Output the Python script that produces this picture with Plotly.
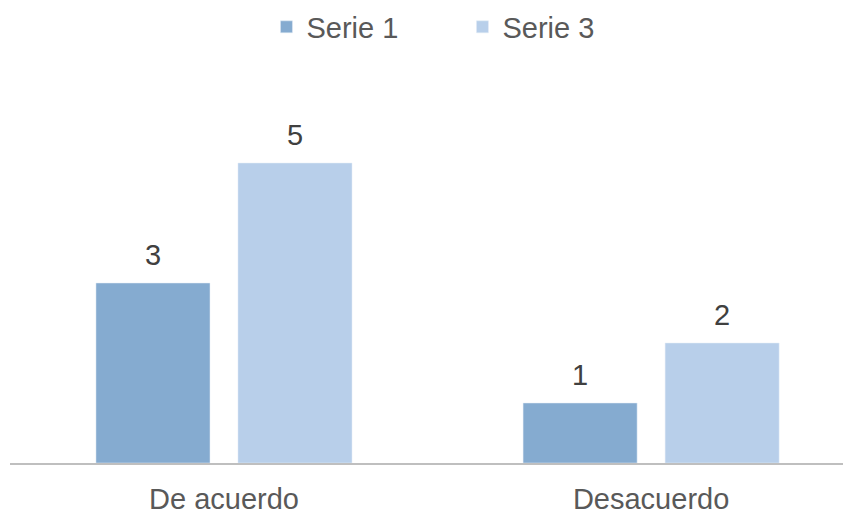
import plotly.graph_objects as go

categories = ["De acuerdo", "Desacuerdo"]
serie1 = [3, 1]
serie3 = [5, 2]

color1 = "#85abd0"
color3 = "#b8cfea"
text_color = "#595959"

fig = go.Figure()
fig.add_trace(go.Bar(x=categories, y=serie1, name="Serie 1", marker=dict(color=color1)))
fig.add_trace(go.Bar(x=categories, y=serie3, name="Serie 3", marker=dict(color=color3)))

# data labels above bars
for vals, shift in [(serie1, -71), (serie3, 71)]:
    for c, v in zip(categories, vals):
        fig.add_annotation(
            x=c, y=v, text=str(v), showarrow=False,
            xshift=shift, yshift=10, yanchor="bottom",
            font=dict(size=29, color="#404040", family="Liberation Sans, Arial"),
        )

# page body adds an 8px offset, so the figure is 8px smaller than the window
fig.update_layout(
    width=843,
    height=505,
    margin=dict(l=2, r=0, t=65, b=50, autoexpand=False),
    plot_bgcolor="white",
    paper_bgcolor="white",
    barmode="group",
    bargap=0.335,
    bargroupgap=0.197,
    font=dict(family="Liberation Sans, Arial", size=29, color=text_color),
    legend=dict(
        orientation="h",
        x=0.538,
        y=1.118,
        xanchor="center",
        yanchor="middle",
        font=dict(size=29, color=text_color),
        entrywidth=151,
    ),
    xaxis=dict(
        range=[-0.501, 1.468],
        showline=True,
        linecolor="#bfbfbf",
        linewidth=2,
        ticks="",
        showgrid=False,
        automargin=False,
        ticklabelstandoff=9,
    ),
    yaxis=dict(range=[0, 6.5], visible=False),
)

fig.write_html("out.html")
